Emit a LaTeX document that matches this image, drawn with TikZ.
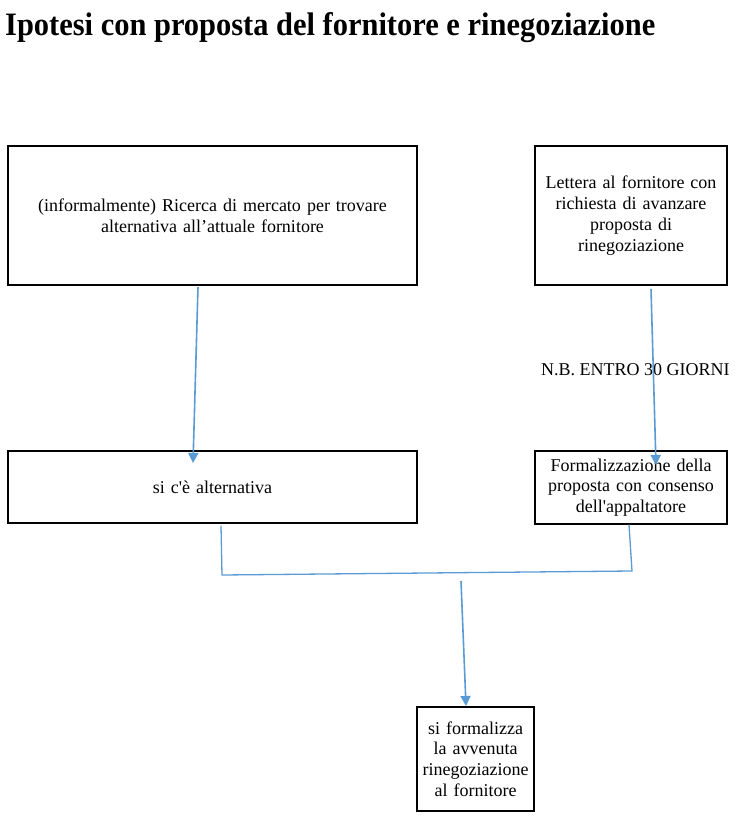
\documentclass[tikz,border=0pt]{standalone}
\usepackage{fontspec}
\usepackage{graphicx}
\setmainfont{Liberation Serif}
\usetikzlibrary{arrows.meta}
\definecolor{arrowblue}{HTML}{5B9BD5}
\begin{document}
\begin{tikzpicture}[x=1pt,y=-1pt,
  box/.style={draw=black, line width=1.2pt, inner sep=0pt, align=center,
    font=\fontsize{18}{20.8}\selectfont},
  flow/.style={draw=arrowblue, line width=1.6pt, -{Triangle[length=10pt,width=10pt]}},
  joinline/.style={draw=arrowblue, line width=1.3pt, line cap=round},
  note/.style={inner sep=0pt, font=\fontsize{18}{20.8}\selectfont},
]
\useasboundingbox (0,0) rectangle (745,821);
\fill[white] (0,0) rectangle (745,821);

% title
\node[anchor=base west, inner sep=0pt] (title) at (5,36)
  {\resizebox{650pt}{23pt}{\bfseries Ipotesi con proposta del fornitore e rinegoziazione}};

% boxes
\node[box, text width=409pt, minimum height=139pt] (b1) at (212.5,215.5)
  {(informalmente) Ricerca di mercato per trovare\\alternativa all’attuale fornitore};
\node[box, text width=192pt, minimum height=139pt] (b2) at (631,215.5)
  {Lettera al fornitore con\\richiesta di avanzare\\proposta di\\rinegoziazione};
\node[box, text width=409pt, minimum height=72pt] (b3) at (212.5,487)
  {si c\textquotesingle è alternativa};
\node[box, text width=192pt, minimum height=73pt] (b4) at (631,487.5)
  {Formalizzazione della\\proposta con consenso\\dell\textquotesingle appaltatore};
\node[box, text width=117pt, minimum height=104pt] (b5) at (475.5,759)
  {si formalizza\\la avvenuta\\rinegoziazione\\al fornitore};

% note
\node[note, anchor=base west] (nb) at (541,375) {N.B. ENTRO 30 GIORNI};

% connector points
\coordinate (a1s) at (198,287);
\coordinate (a1e) at (193,463);
\coordinate (a2s) at (651,289);
\coordinate (a2e) at (656,465);
\coordinate (jl) at (221,526);
\coordinate (jlb) at (222,575);
\coordinate (jr) at (629,525);
\coordinate (jrb) at (632,571);
\coordinate (a3s) at (461,581);
\coordinate (a3e) at (466,706);

\draw[flow] (a1s) -- (a1e);
\draw[flow] (a2s) -- (a2e);
\draw[joinline] (jl) -- (jlb) -- (jrb) -- (jr);
\draw[flow] (a3s) -- (a3e);
\end{tikzpicture}
\end{document}
